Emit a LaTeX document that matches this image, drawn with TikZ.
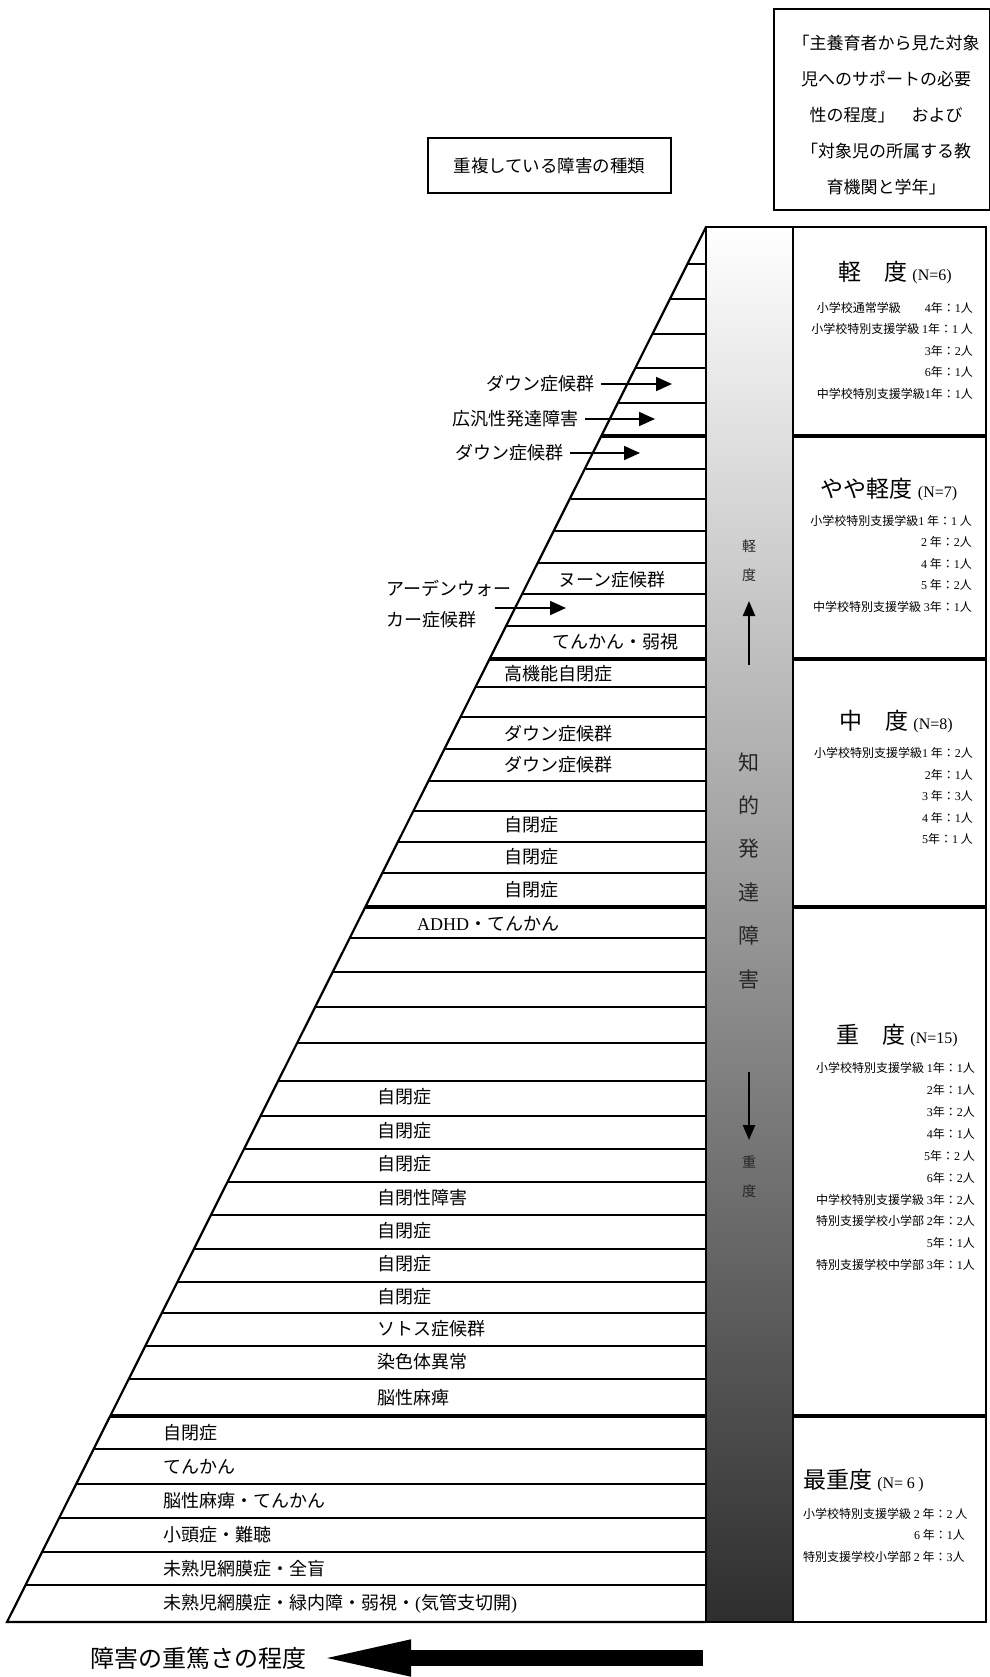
\documentclass[tikz,border=0pt]{standalone}
\usepackage{fontspec}
\setmainfont{Noto Sans CJK JP}
\newfontfamily\latinfont{Liberation Serif}
\usetikzlibrary{arrows.meta}

% digits and capitals in a serif face
\newXeTeXintercharclass\latcls
\newcount\chcode
\chcode=`0 \loop\XeTeXcharclass\chcode=\latcls\advance\chcode by 1 \ifnum\chcode<`: \repeat
\chcode=`A \loop\XeTeXcharclass\chcode=\latcls\advance\chcode by 1 \ifnum\chcode<`[ \repeat
\XeTeXcharclass`(=\latcls
\XeTeXcharclass`)=\latcls
\XeTeXcharclass`\==\latcls
\chcode=0
\loop
  \XeTeXinterchartoks\chcode\latcls={\begingroup\latinfont}
  \XeTeXinterchartoks\latcls\chcode={\endgroup}
  \advance\chcode by 1
\ifnum\chcode<\latcls\repeat
\XeTeXinterchartoks 4095 \latcls={\begingroup\latinfont}
\XeTeXinterchartoks\latcls 4095 ={\endgroup}

\newcommand{\rowline}[2]{\draw[#2] ({707-(#1-227)*0.5018},#1) -- (706,#1);}
\newcommand{\ncount}[1]{{\fontsize{16}{16}\selectfont #1}}

\begin{document}
\XeTeXinterchartokenstate=1
\begin{tikzpicture}[x=1pt,y=-1pt,
    lab/.style={font=\fontsize{18}{18}\selectfont, inner sep=0pt},
    note/.style={font=\fontsize{12}{12}\selectfont, inner sep=0pt},
    grade/.style={font=\fontsize{23}{23}\selectfont, inner sep=0pt},
    thinrow/.style={line width=1.8pt},
    thickrow/.style={line width=3.8pt},
    labarrow/.style={line width=1.8pt, -{Triangle[length=16pt,width=14pt]}},
    bararrow/.style={line width=2.4pt, -{Triangle[length=15pt,width=12pt]}},
    bartext/.style={text=black!85, inner sep=0pt, align=center}]
  \useasboundingbox (0,0) rectangle (989,1677);

  % pyramid rows
  \foreach \y in {264,299,334,368,403,469,499,531,563,594,626,687,717,749,781,811,842,873,
      938,972,1007,1043,1081,1116,1149,1182,1215,1249,1282,1313,1346,1379,1449,1484,1518,1552,1585}
    {\rowline{\y}{thinrow}}
  \foreach \y in {436,659,907,1416} {\rowline{\y}{thickrow}}
  \draw[line width=2.2pt] (706,227) -- (7,1622) -- (706,1622);

  % right column
  \draw[line width=2.2pt] (793,227) rectangle (986,1622);
  \foreach \y in {436,659,907,1416} \draw[thickrow] (793,\y) -- (986,\y);

  % bar
  \shade[top color=white, middle color=black!30, bottom color=black!82] (706,227) rectangle (793,1622);
  \draw[line width=1.6pt] (706,227) rectangle (793,1622);
  \node[bartext, font=\fontsize{14}{29}\selectfont] (lite) at (749,560.5) {軽\\度};
  \node[bartext, font=\fontsize{21}{43.4}\selectfont] (idd) at (749,870.5) {知\\的\\発\\達\\障\\害};
  \node[bartext, font=\fontsize{14}{29}\selectfont] (heavy) at (749,1176.5) {重\\度};
  \coordinate (upfrom) at (749,665);
  \coordinate (upto) at (749,601);
  \coordinate (downfrom) at (749,1072);
  \coordinate (downto) at (749,1140);
  \draw[bararrow] (upfrom) -- (upto);
  \draw[bararrow] (downfrom) -- (downto);

  % boxes on top
  \node[draw, line width=2pt, minimum width=243pt, minimum height=55pt, font=\fontsize{17.5}{17.5}\selectfont]
    (dupbox) at (549.5,165.5) {重複している障害の種類};
  \draw[line width=2pt] (774,9) rectangle (990,210);
  \node[align=center, inner sep=0pt, font=\fontsize{17}{36.2}\selectfont] (caretext) at (886,115)
    {「主養育者から見た対象\\児へのサポートの必要\\性の程度」　および\\「対象児の所属する教\\育機関と学年」};

  % labels with arrows
  \node[lab, anchor=east] (down1) at (595,384) {ダウン症候群};
  \node[lab, anchor=east] (pdd) at (579,419) {広汎性発達障害};
  \node[lab, anchor=east] (down2) at (564,453) {ダウン症候群};
  \coordinate (down1tip) at (672,384);
  \coordinate (pddtip) at (655,419);
  \coordinate (down2tip) at (640,453);
  \draw[labarrow, shorten <=6pt] (down1) -- (down1tip);
  \draw[labarrow, shorten <=6pt] (pdd) -- (pddtip);
  \draw[labarrow, shorten <=6pt] (down2) -- (down2tip);
  \node[lab, anchor=west] (arden1) at (386,588) {アーデンウォー};
  \node[lab, anchor=west] (arden2) at (386,620) {カー症候群};
  \coordinate (ardfrom) at (495,608);
  \coordinate (ardto) at (566,608);
  \draw[labarrow] (ardfrom) -- (ardto);

  % labels in rows
  \node[lab, anchor=west] (noon) at (558,580) {ヌーン症候群};
  \node[lab, anchor=west] (epiamb) at (552,642) {てんかん・弱視};
  \node[lab, anchor=west] (hfa) at (504,674) {高機能自閉症};
  \node[lab, anchor=west] (down3) at (504,734) {ダウン症候群};
  \node[lab, anchor=west] (down4) at (504,765) {ダウン症候群};
  \node[lab, anchor=west] (aut1) at (504,825) {自閉症};
  \node[lab, anchor=west] (aut2) at (504,857) {自閉症};
  \node[lab, anchor=west] (aut3) at (504,890) {自閉症};
  \node[lab, anchor=west] (adhd) at (417,924) {ADHD・てんかん};
  \foreach \y/\t [count=\i] in {1097/自閉症, 1131/自閉症, 1164/自閉症, 1198/自閉性障害, 1231/自閉症,
      1264/自閉症, 1297/自閉症, 1329/ソトス症候群, 1362/染色体異常, 1398/脳性麻痺}
    \node[lab, anchor=west] (sev\i) at (377,\y) {\t};
  \foreach \y/\t [count=\i] in {1433/自閉症, 1467/てんかん, 1501/脳性麻痺・てんかん, 1535/小頭症・難聴,
      1569/未熟児網膜症・全盲, 1604/{未熟児網膜症・緑内障・弱視・(気管支切開)}}
    \node[lab, anchor=west] (prof\i) at (163,\y) {\t};

  % right column texts
  \node[grade] (mild) at (895,273) {軽　度 \ncount{(N=6)}};
  \foreach \y/\t [count=\i] in {308/{小学校通常学級　　4年：1人}, 329/{小学校特別支援学級 1年：1 人},
      351/{3年：2人}, 372/{6年：1人}, 394/{中学校特別支援学級1年：1人}}
    \node[note, anchor=east] (mild\i) at (973,\y) {\t};
  \node[grade] (fair) at (889,490) {やや軽度 \ncount{(N=7)}};
  \foreach \y/\t [count=\i] in {521/{小学校特別支援学級1 年：1 人}, 542/{2 年：2人}, 564/{4 年：1人},
      585/{5 年：2人}, 607/{中学校特別支援学級 3年：1人}}
    \node[note, anchor=east] (fair\i) at (972,\y) {\t};
  \node[grade] (moder) at (896,722) {中　度 \ncount{(N=8)}};
  \foreach \y/\t [count=\i] in {753/{小学校特別支援学級1 年：2人}, 775/{2年：1人}, 796/{3 年：3人},
      818/{4 年：1人}, 839/{5年：1 人}}
    \node[note, anchor=east] (moder\i) at (973,\y) {\t};
  \node[grade] (sever) at (897,1036) {重　度 \ncount{(N=15)}};
  \foreach \y/\t [count=\i] in {1068/{小学校特別支援学級 1年：1人}, 1090/{2年：1人}, 1112/{3年：2人},
      1134/{4年：1人}, 1156/{5年：2 人}, 1178/{6年：2人}, 1200/{中学校特別支援学級 3年：2人},
      1221/{特別支援学校小学部 2年：2人}, 1243/{5年：1人}, 1265/{特別支援学校中学部 3年：1人}}
    \node[note, anchor=east] (sever\i) at (975,\y) {\t};
  \node[grade, anchor=west] (prof) at (803,1481) {最重度 \ncount{(N= 6 )}};
  \node[note, anchor=west] (prof1) at (803,1514) {小学校特別支援学級 2 年：2 人};
  \node[note, anchor=east] (prof2) at (965,1535) {6 年：1人};
  \node[note, anchor=west] (prof3) at (803,1557) {特別支援学校小学部 2 年：3人};

  % degree arrow
  \node[font=\fontsize{24}{24}\selectfont, inner sep=0pt] (sevlab) at (198,1658) {障害の重篤さの程度};
  \coordinate (sevtail) at (703,1658);
  \draw[line width=16pt, -{Triangle[length=96pt,width=32pt]}, shorten >=9pt] (sevtail) -- (sevlab.east);
\end{tikzpicture}
\end{document}
